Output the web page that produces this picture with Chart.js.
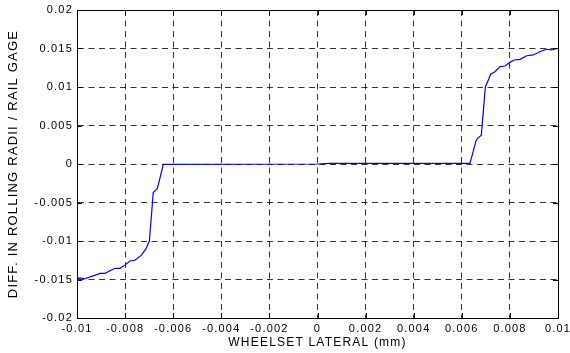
<!DOCTYPE html>
<html>
<head>
<meta charset="utf-8">
<script src="https://cdn.jsdelivr.net/npm/chart.js@4"></script>
<style>
  html, body { margin: 0; padding: 0; background: #fff; }
  #wrap { width: 570px; height: 353px; position: relative; }
</style>
</head>
<body>
<div id="wrap"><canvas id="chart"></canvas></div>
<script>
const xValues = [
    -0.01, -0.00988, -0.00967, -0.00939, -0.00904, -0.00884, -0.00842, -0.00821,
    -0.0080, -0.0078, -0.00759, -0.00731, -0.00713, -0.00699, -0.00683, -0.00666,
    -0.00641, 0, 0.0005, 0.00634, 0.00659, 0.00665, 0.00681, 0.00698, 0.00721,
    0.00738, 0.00759, 0.0078, 0.0080, 0.00818, 0.00842, 0.0087, 0.00897, 0.00925,
    0.00953, 0.00974, 0.01
];
const yValues = [
    -0.0149, -0.0148, -0.0149, -0.0146, -0.0142, -0.0142, -0.01355, -0.01355,
    -0.0131, -0.0126, -0.0125, -0.0118, -0.0110, -0.0100, -0.0037, -0.0032,
    -0.00005, 0, 0.00008, 0.00008, 0.0030, 0.0033, 0.00375, 0.0100, 0.01169,
    0.01199, 0.01264, 0.01273, 0.0132, 0.01351, 0.01359, 0.01406, 0.01416, 0.01458,
    0.0149, 0.01481, 0.0150
];
const xTicks = [-0.01, -0.008, -0.006, -0.004, -0.002, 0, 0.002, 0.004, 0.006, 0.008, 0.01];
const xTickLabels = ['-0.01', '-0.008', '-0.006', '-0.004', '-0.002', '0', '0.002', '0.004', '0.006', '0.008', '0.01'];
const yTicks = [-0.02, -0.015, -0.01, -0.005, 0, 0.005, 0.01, 0.015, 0.02];
const yTickLabels = ['-0.02', '-0.015', '-0.01', '-0.005', '0', '0.005', '0.01', '0.015', '0.02'];

Chart.defaults.font.family = '"Liberation Sans", Arial, Helvetica, sans-serif';
Chart.defaults.color = '#000';

// wide letter spacing like the original figure text
const spacingPlugin = {
    id: 'spacing',
    beforeLayout(chart) { chart.ctx.letterSpacing = '1.2px'; },
    beforeDraw(chart) { chart.ctx.letterSpacing = '1.2px'; }
};

// box around the axes plus inward tick marks
const framePlugin = {
    id: 'frame',
    afterDraw(chart) {
        const { ctx, chartArea: a, scales } = chart;
        ctx.save();
        ctx.strokeStyle = '#000';
        ctx.lineWidth = 1;
        ctx.setLineDash([]);
        ctx.strokeRect(Math.round(a.left) + 0.5, Math.round(a.top) + 0.5,
            Math.round(a.right - a.left), Math.round(a.bottom - a.top));
        const len = 5;
        ctx.beginPath();
        xTicks.forEach(v => {
            const px = Math.round(scales.x.getPixelForValue(v)) + 0.5;
            ctx.moveTo(px, a.bottom); ctx.lineTo(px, a.bottom - len);
            ctx.moveTo(px, a.top); ctx.lineTo(px, a.top + len);
        });
        yTicks.forEach(v => {
            const py = Math.round(scales.y.getPixelForValue(v)) + 0.5;
            ctx.moveTo(a.left, py); ctx.lineTo(a.left + len, py);
            ctx.moveTo(a.right, py); ctx.lineTo(a.right - len, py);
        });
        ctx.stroke();
        ctx.restore();
    }
};

const points = xValues.map((x, i) => ({ x: x, y: yValues[i] }));

new Chart(document.getElementById('chart'), {
    type: 'scatter',
    data: {
        datasets: [{
            data: points,
            showLine: true,
            borderColor: '#0000ff',
            borderWidth: 1.2,
            pointRadius: 0,
            tension: 0
        }]
    },
    options: {
        responsive: true,
        maintainAspectRatio: false,
        animation: false,
        layout: { padding: { top: 10, right: 12, left: 0, bottom: 0 } },
        plugins: { legend: { display: false }, tooltip: { enabled: false } },
        scales: {
            x: {
                type: 'linear',
                min: -0.01,
                max: 0.01,
                afterBuildTicks: axis => { axis.ticks = xTicks.map(v => ({ value: v })); },
                afterFit: scale => {
                    scale.height = 35;
                    scale.paddingLeft = 0;
                    scale.paddingRight = 0;
                },
                ticks: {
                    padding: 4,
                    maxRotation: 0,
                    font: { size: 11 },
                    callback: (v, i) => xTickLabels[i]
                },
                grid: {
                    color: 'rgba(0,0,0,0.8)',
                    drawTicks: false
                },
                border: { display: true, color: '#000', dash: [6, 4.5] },
                title: {
                    display: true,
                    text: 'WHEELSET LATERAL (mm)',
                    font: { size: 12 },
                    padding: { top: 3, bottom: 3 }
                }
            },
            y: {
                type: 'linear',
                min: -0.02,
                max: 0.02,
                afterBuildTicks: axis => { axis.ticks = yTicks.map(v => ({ value: v })); },
                afterFit: scale => {
                    scale.width = 77;
                    scale.paddingTop = 0;
                    scale.paddingBottom = 0;
                },
                ticks: {
                    padding: 4,
                    font: { size: 11 },
                    callback: (v, i) => yTickLabels[i]
                },
                grid: {
                    color: 'rgba(0,0,0,0.8)',
                    drawTicks: false
                },
                border: { display: true, color: '#000', dash: [6, 4.5] },
                title: {
                    display: true,
                    text: 'DIFF. IN ROLLING RADII / RAIL GAGE',
                    font: { size: 13 },
                    padding: { top: 6, bottom: 6 }
                }
            }
        }
    },
    plugins: [spacingPlugin, framePlugin]
});
</script>
</body>
</html>
